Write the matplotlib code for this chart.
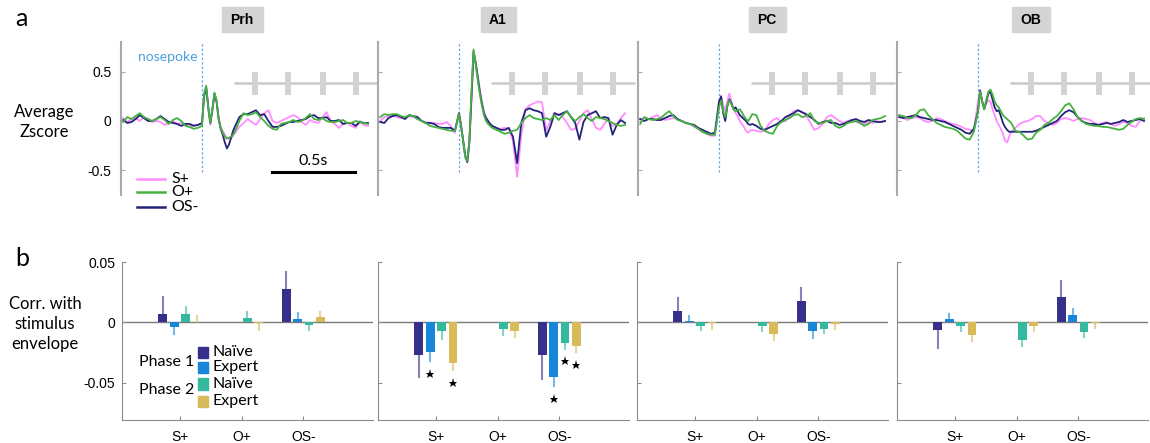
import numpy as np
import matplotlib.pyplot as plt
from matplotlib.patches import Rectangle

plt.rcParams["font.family"] = ["Lato", "DejaVu Sans"]

# ---------------- panel a: average z-scored traces ----------------
# time relative to nosepoke (s); finer sampling around the evoked response
t_pre = np.arange(-0.475, -0.001, 0.025)
t_mid = np.arange(0.0, 0.2001, 0.0125)
t_post = np.arange(0.225, 1.0001, 0.025)
time = np.concatenate([t_pre, t_mid, t_post])

prh_s = [0.03, -0.01, 0.02, 0.03, 0.0, 0.04, 0.02, -0.01, 0.0, -0.01, -0.04, -0.02, 0.0, -0.03, -0.02, -0.04, -0.06, -0.04, -0.04,
         -0.03, 0.27, 0.35, 0.12, -0.04, 0.1, 0.27, 0.2, 0.04, -0.06, -0.1, -0.14, -0.17, -0.18, -0.18, -0.15, -0.12,
         -0.06, -0.02, 0.02, -0.01, -0.04, 0.02, 0.08, 0.11, 0.0, -0.02, 0.0, 0.02, 0.04, 0.06, 0.04, -0.01,
         -0.04, 0.01, -0.01, -0.02, 0.04, 0.09, 0.0, -0.03, -0.07, -0.03, -0.02, -0.05, -0.07, 0.0, -0.04, -0.05]
prh_o = [-0.01, 0.04, 0.02, 0.05, 0.08, 0.04, 0.02, 0.0, 0.02, 0.04, 0.01, -0.03, 0.01, 0.03, 0.0, -0.05, -0.06, -0.08, -0.07,
         -0.05, 0.28, 0.36, 0.14, -0.02, 0.12, 0.29, 0.21, 0.03, -0.07, -0.12, -0.16, -0.18, -0.17, -0.16, -0.14, -0.1,
         0.0, 0.08, 0.06, 0.07, 0.09, 0.04, 0.0, -0.05, -0.08, -0.09, -0.03, -0.02, -0.01, 0.01, -0.01, 0.0,
         0.03, 0.07, 0.02, 0.01, 0.03, 0.0, -0.01, -0.01, 0.0, 0.01, -0.02, -0.02, 0.0, -0.01, -0.02, -0.03]
prh_os = [0.01, -0.02, -0.01, 0.02, 0.06, 0.03, 0.0, 0.0, 0.02, 0.05, 0.02, -0.01, -0.02, -0.03, -0.05, -0.03, -0.03, -0.05, -0.04,
          -0.02, 0.25, 0.34, 0.15, -0.02, 0.12, 0.28, 0.2, 0.02, -0.08, -0.14, -0.22, -0.28, -0.24, -0.17, -0.1, -0.05,
          0.04, 0.07, 0.07, 0.09, 0.11, 0.06, 0.07, 0.0, -0.06, -0.06, -0.05, -0.03, -0.01, -0.01, 0.0, 0.01,
          0.02, 0.05, 0.06, 0.03, 0.03, 0.04, 0.0, 0.0, 0.01, -0.03, -0.02, -0.02, -0.05, -0.01, -0.02, -0.02]

a1_s = [0.0, 0.04, 0.05, 0.06, 0.04, 0.03, 0.04, 0.05, 0.04, 0.02, 0.0, -0.01, -0.02, -0.02, -0.03, -0.03, -0.01, -0.05, -0.12,
        0.08, -0.05, -0.22, -0.38, -0.42, -0.25, 0.2, 0.67, 0.6, 0.47, 0.33, 0.2, 0.1, 0.04, 0.0, -0.03, -0.05,
        -0.07, -0.08, -0.07, -0.08, -0.2, -0.57, -0.15, 0.12, 0.16, 0.18, 0.2, 0.19, -0.1, 0.0, 0.08, 0.07,
        0.04, -0.02, -0.09, -0.08, 0.0, 0.08, 0.11, 0.02, -0.07, -0.09, -0.03, 0.02, -0.05, -0.03, 0.03, 0.08]
a1_o = [0.04, 0.07, 0.06, 0.07, 0.07, 0.05, 0.04, 0.06, 0.05, 0.02, 0.0, -0.02, -0.05, -0.06, -0.07, -0.08, -0.09, -0.1, -0.1,
        0.07, -0.06, -0.2, -0.36, -0.41, -0.2, 0.3, 0.73, 0.58, 0.42, 0.28, 0.16, 0.06, 0.0, -0.03, -0.05, -0.07,
        -0.09, -0.11, -0.13, -0.12, -0.1, -0.09, -0.02, 0.03, 0.06, 0.03, 0.02, 0.01, 0.03, 0.01, 0.06, 0.01,
        0.06, 0.1, 0.04, 0.0, 0.04, 0.07, 0.03, 0.0, 0.04, 0.03, 0.02, 0.0, -0.02, -0.04, -0.05, -0.04]
a1_os = [-0.01, -0.02, 0.03, 0.05, 0.06, 0.04, 0.02, 0.06, 0.05, 0.04, 0.0, -0.02, -0.02, -0.03, -0.06, -0.07, -0.07, -0.07, -0.1,
         0.08, -0.05, -0.2, -0.35, -0.42, -0.2, 0.25, 0.71, 0.6, 0.45, 0.3, 0.18, 0.08, 0.03, 0.0, -0.03, -0.05,
         -0.07, -0.09, -0.09, -0.07, -0.16, -0.43, -0.02, 0.11, 0.13, 0.11, 0.1, 0.08, -0.16, -0.06, 0.08, 0.06,
         0.08, 0.1, 0.04, -0.02, -0.19, -0.01, 0.06, 0.08, 0.1, 0.03, 0.04, 0.03, -0.14, -0.04, 0.01, -0.02]

pc_s = [0.02, 0.03, 0.02, 0.04, 0.06, 0.03, 0.01, 0.02, 0.03, 0.02, 0.0, -0.02, -0.03, -0.06, -0.08, -0.11, -0.13, -0.15, -0.15,
        0.15, 0.26, 0.16, 0.1, 0.2, 0.28, 0.2, 0.12, 0.08, 0.05, 0.0, -0.03, -0.06, -0.1, -0.12, -0.1, -0.09,
        -0.1, -0.11, -0.1, -0.03, 0.01, 0.03, -0.01, 0.0, 0.05, 0.1, 0.11, 0.09, 0.06, -0.02, -0.09, -0.07,
        -0.03, 0.04, 0.06, 0.03, 0.0, -0.02, 0.0, 0.01, -0.01, -0.02, -0.03, -0.01, -0.02, 0.0, -0.01, 0.0]
pc_o = [-0.03, 0.04, 0.02, 0.01, 0.02, 0.03, 0.07, 0.1, 0.05, 0.01, 0.0, -0.02, -0.03, -0.05, -0.08, -0.11, -0.13, -0.14, -0.14,
        0.14, 0.21, 0.1, 0.04, 0.16, 0.21, 0.17, 0.12, 0.1, 0.11, 0.12, 0.09, 0.05, 0.02, 0.0, 0.03, 0.07,
        0.06, -0.05, -0.1, -0.12, -0.13, -0.05, -0.01, 0.01, 0.03, 0.06, 0.07, 0.04, 0.05, 0.08, 0.0, -0.02,
        -0.02, 0.0, 0.01, -0.05, -0.07, -0.05, -0.02, -0.01, 0.0, -0.02, -0.05, -0.03, 0.01, 0.02, 0.03, 0.05]
pc_os = [0.02, 0.0, 0.02, 0.02, 0.01, 0.01, 0.03, 0.05, 0.06, 0.02, 0.0, -0.02, -0.03, -0.04, -0.07, -0.09, -0.11, -0.13, -0.12,
         0.2, 0.25, 0.08, 0.0, 0.15, 0.22, 0.18, 0.12, 0.14, 0.1, 0.06, 0.04, 0.02, 0.0, -0.03, -0.04, -0.03,
         -0.05, -0.08, -0.09, -0.07, -0.05, -0.03, 0.0, 0.04, 0.06, 0.08, 0.11, 0.09, 0.07, 0.04, 0.01, -0.03,
         -0.01, 0.0, -0.02, -0.02, -0.04, -0.03, -0.01, 0.01, 0.02, 0.0, -0.01, 0.01, 0.0, -0.01, -0.01, 0.0]

ob_s = [0.06, 0.03, 0.01, 0.03, 0.04, 0.03, 0.0, -0.01, 0.0, 0.03, 0.02, 0.0, -0.02, -0.03, -0.04, -0.06, -0.08, -0.09, -0.1,
        0.2, 0.32, 0.2, 0.14, 0.18, 0.21, 0.2, 0.12, 0.06, 0.0, -0.04, -0.08, -0.13, -0.2, -0.22, -0.16, -0.11,
        -0.07, -0.03, -0.01, 0.0, 0.02, 0.05, 0.05, 0.0, -0.02, -0.04, -0.02, 0.02, 0.03, 0.02, 0.0, 0.02,
        0.03, 0.02, 0.01, -0.02, -0.04, -0.02, -0.01, -0.03, -0.05, -0.03, -0.01, -0.02, -0.05, -0.06, 0.0, 0.03]
ob_o = [0.06, 0.05, 0.03, 0.03, 0.06, 0.11, 0.12, 0.06, 0.02, -0.02, -0.04, -0.06, -0.07, -0.08, -0.1, -0.14, -0.18, -0.19, -0.11,
        0.1, 0.3, 0.2, 0.12, 0.22, 0.3, 0.32, 0.27, 0.2, 0.16, 0.14, 0.1, 0.06, 0.04, 0.02, 0.0, -0.02,
        -0.1, -0.11, -0.15, -0.19, -0.18, -0.12, -0.09, -0.04, -0.02, 0.02, 0.05, 0.1, 0.16, 0.18, 0.12, 0.04,
        0.0, -0.03, -0.04, -0.05, -0.05, -0.06, -0.06, -0.07, -0.08, -0.09, -0.08, -0.04, -0.01, 0.02, 0.03, 0.02]
ob_os = [0.04, 0.03, 0.04, 0.05, 0.06, 0.04, 0.03, 0.02, 0.01, 0.01, 0.0, -0.01, -0.03, -0.05, -0.07, -0.09, -0.12, -0.13, -0.08,
         0.1, 0.31, 0.2, 0.12, 0.2, 0.28, 0.3, 0.22, 0.14, 0.1, 0.11, 0.05, -0.02, -0.06, -0.09, -0.11, -0.11,
         -0.11, -0.11, -0.11, -0.11, -0.11, -0.1, -0.08, -0.06, -0.04, -0.02, 0.0, 0.05, 0.09, 0.11, 0.09, 0.04,
         0.0, -0.02, -0.03, -0.03, -0.04, -0.03, -0.02, -0.03, -0.02, -0.01, 0.01, -0.01, 0.0, 0.01, 0.02, 0.0]

regions = ["Prh", "A1", "PC", "OB"]
traces = [(prh_s, prh_o, prh_os), (a1_s, a1_o, a1_os), (pc_s, pc_o, pc_os), (ob_s, ob_o, ob_os)]
trace_labels = ["S+", "O+", "OS-"]
trace_colors = ["#ff8dff", "#45b23f", "#22247a"]

stim_onsets = [0.32, 0.52, 0.73, 0.93]
stim_start = 0.19

# ---------------- panel b: correlation with stimulus envelope ----------------
odors = ["S+", "O+", "OS-"]
phase_labels = ["Naïve", "Expert", "Naïve", "Expert"]
bar_colors = ["#36308a", "#1886d8", "#34b89e", "#d6bb58"]
nan = np.nan

# order: phase1 naive, phase1 expert, phase2 naive, phase2 expert
prh_corr = [[0.0074, nan, 0.0273], [-0.0041, nan, 0.0025], [0.0074, 0.0041, -0.0019], [0.0005, -0.0005, 0.0046]]
prh_sem = [[0.0139, nan, 0.0145], [0.0055, nan, 0.0052], [0.0054, 0.0046, 0.0044], [0.005, 0.0058, 0.0044]]
a1_corr = [[-0.0271, nan, -0.0265], [-0.0246, nan, -0.045], [-0.0072, -0.005, -0.0166], [-0.0334, -0.0072, -0.0196]]
a1_sem = [[0.0179, nan, 0.0205], [0.0072, nan, 0.0078], [0.0066, 0.0055, 0.0049], [0.0061, 0.0052, 0.0047]]
pc_corr = [[0.0093, nan, 0.0176], [0.0011, nan, -0.0074], [-0.0025, -0.0025, -0.005], [-0.0003, -0.0099, -0.0014]]
pc_sem = [[0.011, nan, 0.0112], [0.0041, nan, 0.0052], [0.0038, 0.0044, 0.0035], [0.0047, 0.0047, 0.0036]]
ob_corr = [[-0.0063, nan, 0.0209], [0.0027, nan, 0.0063], [-0.0025, -0.0146, -0.008], [-0.0104, -0.0025, -0.0005]]
ob_sem = [[0.0147, nan, 0.0134], [0.0047, nan, 0.005], [0.0049, 0.0049, 0.0038], [0.0046, 0.0046, 0.0039]]
a1_sig = [[False, False, False], [True, False, True], [False, False, True], [True, False, True]]
no_sig = [[False] * 3] * 4
corrs = [prh_corr, a1_corr, pc_corr, ob_corr]
sems = [prh_sem, a1_sem, pc_sem, ob_sem]
sigs = [no_sig, a1_sig, no_sig, no_sig]

# ---------------- layout helpers (pixel boxes) ----------------
W, H = 1150, 443
fig = plt.figure(figsize=(W / 100, H / 100), dpi=100)


def px_box(left, top, width, height):
    return [left / W, 1 - (top + height) / H, width / W, height / H]


tick_font = dict(family=["Liberation Sans", "DejaVu Sans"], size=10)
top_lefts = [121, 378, 638, 897]
bot_lefts = [122, 378, 637, 897]
title_x = [242, 498, 767, 1031]
title_w = [41, 35, 37, 38]

top_axes = []
for i, region in enumerate(regions):
    ax = fig.add_axes(px_box(top_lefts[i], 42, 257, 153))
    top_axes.append(ax)
    s, o, os_ = traces[i]
    ax.plot(time, s, color=trace_colors[0], lw=1.3)
    ax.plot(time, os_, color=trace_colors[2], lw=1.3)
    ax.plot(time, o, color=trace_colors[1], lw=1.3)
    ax.set_xlim(-0.488, 1.06)
    ax.set_ylim(-0.755, 0.806)
    for sp in ["top", "right", "bottom"]:
        ax.spines[sp].set_visible(False)
    ax.spines["left"].set_color("#a9a9a9")
    ax.spines["left"].set_linewidth(1.5)
    ax.set_xticks([])
    ax.set_yticks([-0.5, 0, 0.5])
    ax.tick_params(axis="y", direction="in", length=3, color="#a9a9a9", pad=7)
    if i == 0:
        ax.set_yticklabels(["-0.5", "0", "0.5"], fontdict=tick_font)
    else:
        ax.set_yticklabels([])
    ax.patch.set_visible(False)

    # nosepoke marker
    ax.plot([0, 0], [-0.52, 0.806], color="#5ca8ea", lw=0.9, ls=(0, (1.8, 1.8)), zorder=0.5)
    # stimulus envelope sketch
    ax.plot([stim_start, 1.06], [0.39, 0.39], color="#c9c9c9", lw=1.8,
            solid_capstyle="butt", clip_on=False)
    for on in stim_onsets:
        ax.plot([on, on], [0.265, 0.505], color="#d3d3d3", lw=4.3, solid_capstyle="butt")

    # region title in grey box
    tx, tw = title_x[i], title_w[i]
    fig.patches.append(Rectangle(((tx - tw / 2) / W, 1 - 32 / H), tw / W, 25 / H,
                                 transform=fig.transFigure, color="#d4d4d4", zorder=0))
    fig.text(tx / W, 1 - 19.5 / H, region, ha="center", va="center", fontsize=10,
             fontweight="bold", family=["Liberation Sans", "DejaVu Sans"])

ax0 = top_axes[0]
ax0.text(-0.205, 0.65, "nosepoke", color="#4a9fe0", fontsize=10, ha="center", va="center")
ax0.plot([0.42, 0.92], [-0.52, -0.52], color="k", lw=2.2)
ax0.text(0.67, -0.41, "0.5s", fontsize=11.5, ha="center", va="center")
for k, (lab, col) in enumerate(zip(trace_labels, trace_colors)):
    yy = [-0.59, -0.725, -0.875][k]
    ax0.plot([-0.39, -0.22], [yy, yy], color=col, lw=1.8, clip_on=False)
    ax0.text(-0.185, yy, lab, fontsize=11.5, ha="left", va="center", clip_on=False)

fig.text(44 / W, 1 - 122 / H, "Average\nZscore", ha="center", va="center",
         fontsize=12, linespacing=1.35)
fig.text(21 / W, 1 - 19 / H, "a", ha="center", va="center", fontsize=18)

# ---------------- bar panels ----------------
xpos = np.arange(1, 4)
offsets = [-0.276, -0.092, 0.092, 0.276]
bar_w = 0.145

for i, region in enumerate(regions):
    ax = fig.add_axes(px_box(bot_lefts[i], 262, 251, 158))
    ax.axhline(0, color="#7a7a7a", lw=1, zorder=1)
    for j in range(4):
        vals = np.array(corrs[i][j])
        errs = np.array(sems[i][j])
        xx = xpos + offsets[j]
        ok = ~np.isnan(vals)
        ax.bar(xx[ok], vals[ok], width=bar_w, color=bar_colors[j], zorder=2)
        for x_, v, e, sig in zip(xx, vals, errs, sigs[i][j]):
            if np.isnan(v):
                continue
            sgn = -1 if v < 0 else 1
            ax.plot([x_, x_], [v, v + sgn * e], color=bar_colors[j], alpha=0.6, lw=1.5, zorder=2)
            if sig:
                ax.plot(x_, v - e - 0.0105, marker="*", color="k", ms=6.5, mew=0, zorder=3)
    ax.set_xlim(0.06, 4.13)
    ax.set_ylim(-0.0806, 0.05)
    for sp in ["top", "right"]:
        ax.spines[sp].set_visible(False)
    for sp in ["left", "bottom"]:
        ax.spines[sp].set_color("#8c8c8c")
    ax.set_xticks(xpos)
    ax.set_xticklabels(odors, fontdict=tick_font)
    ax.set_yticks([-0.05, 0, 0.05])
    ax.tick_params(direction="in", length=3, color="#8c8c8c")
    ax.tick_params(axis="x", pad=7)
    ax.tick_params(axis="y", pad=5)
    if i == 0:
        ax.set_yticklabels(["-0.05", "0", "0.05"], fontdict=tick_font)
        # phase / expertise key
        for j, lab in enumerate(phase_labels):
            fy = [0.43, 0.335, 0.228, 0.12][j]
            ax.add_patch(Rectangle((0.302, fy - 0.035), 0.04, 0.07, transform=ax.transAxes,
                                   color=bar_colors[j], clip_on=False))
            ax.text(0.36, fy, lab, transform=ax.transAxes, fontsize=11.5, ha="left", va="center")
        ax.text(0.287, 0.367, "Phase 1", transform=ax.transAxes, fontsize=11.5, ha="right", va="center")
        ax.text(0.287, 0.19, "Phase 2", transform=ax.transAxes, fontsize=11.5, ha="right", va="center")
    else:
        ax.set_yticklabels([])

fig.text(45 / W, 1 - 324 / H, "Corr. with\nstimulus\nenvelope", ha="center", va="center",
         fontsize=12, linespacing=1.3)
fig.text(22 / W, 1 - 258 / H, "b", ha="center", va="center", fontsize=18)

fig.savefig("out.png", dpi=100)
